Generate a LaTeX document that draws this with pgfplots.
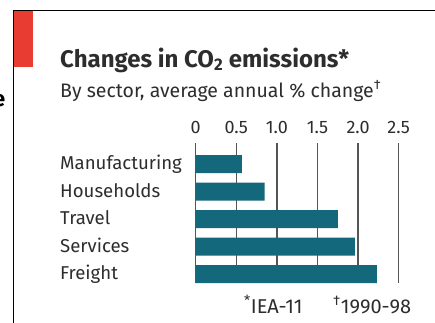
\documentclass[border=0pt]{standalone}
\usepackage{pgfplots}
\pgfplotsset{compat=1.18}
\usepackage{fontspec}
\setmainfont{Fira Sans}
\definecolor{barteal}{RGB}{20,104,124}
\definecolor{txt}{RGB}{45,45,45}
\definecolor{redbox}{RGB}{232,60,50}
\definecolor{gridc}{RGB}{85,85,85}
\begin{document}
\begin{tikzpicture}[x=1pt,y=1pt]
\useasboundingbox (0,0) rectangle (435,-322);
\fill[white] (0,0) rectangle (435,-322);
\fill[redbox] (14,-10) rectangle (33,-67);
\draw[black, line width=1.8pt] (13.5,-323) -- (13.5,-10.5) -- (436,-10.5);
\node[anchor=base east, inner sep=0, font=\bfseries\fontsize{22}{22}\selectfont] at (5.5,-106) {e};
\node[anchor=base west, inner sep=0, text=txt, font=\bfseries\fontsize{24}{24}\selectfont] at (60,-67) {Changes in CO\textsubscript{2} emissions*};
\node[anchor=base west, inner sep=0, text=txt, font=\fontsize{19.5}{19.5}\selectfont] at (60,-97) {By sector, average annual \% change\textsuperscript{\textdagger}};
\begin{axis}[
  at={(195.7pt,-283pt)}, anchor=south west,
  scale only axis, width=203pt, height=140pt,
  xmin=0, xmax=2.5, ymin=-0.764, ymax=4.327, y dir=reverse,
  xbar, bar width=18pt,
  axis line style={draw=none}, major tick length=0pt,
  xtick={0,0.5,1,1.5,2,2.5}, xticklabels={0,0.5,1.0,1.5,2.0,2.5},
  xticklabel pos=upper,
  xmajorgrids, grid style={draw=gridc, line width=1.3pt},
  xticklabel style={anchor=base, yshift=10pt, inner sep=0pt, text=txt, font=\fontsize{18}{18}\selectfont},
  ytick={0,1,2,3,4},
  yticklabels={Manufacturing,Households,Travel,Services,Freight},
  yticklabel style={anchor=base west, xshift=-135.7pt, yshift=-5.5pt, inner sep=0pt, text=txt, font=\fontsize{18.6}{18.6}\selectfont},
]
\addplot[fill=barteal, draw=none] coordinates {(0.57,0) (0.85,1) (1.75,2) (1.96,3) (2.23,4)};
\end{axis}
\node[anchor=base west, inner sep=0, text=txt, font=\fontsize{20}{20}\selectfont] at (244,-313) {\textsuperscript{*}IEA-11};
\node[anchor=base west, inner sep=0, text=txt, font=\fontsize{20}{20}\selectfont] at (333,-313) {\textsuperscript{\textdagger}1990-98};
\end{tikzpicture}
\end{document}
